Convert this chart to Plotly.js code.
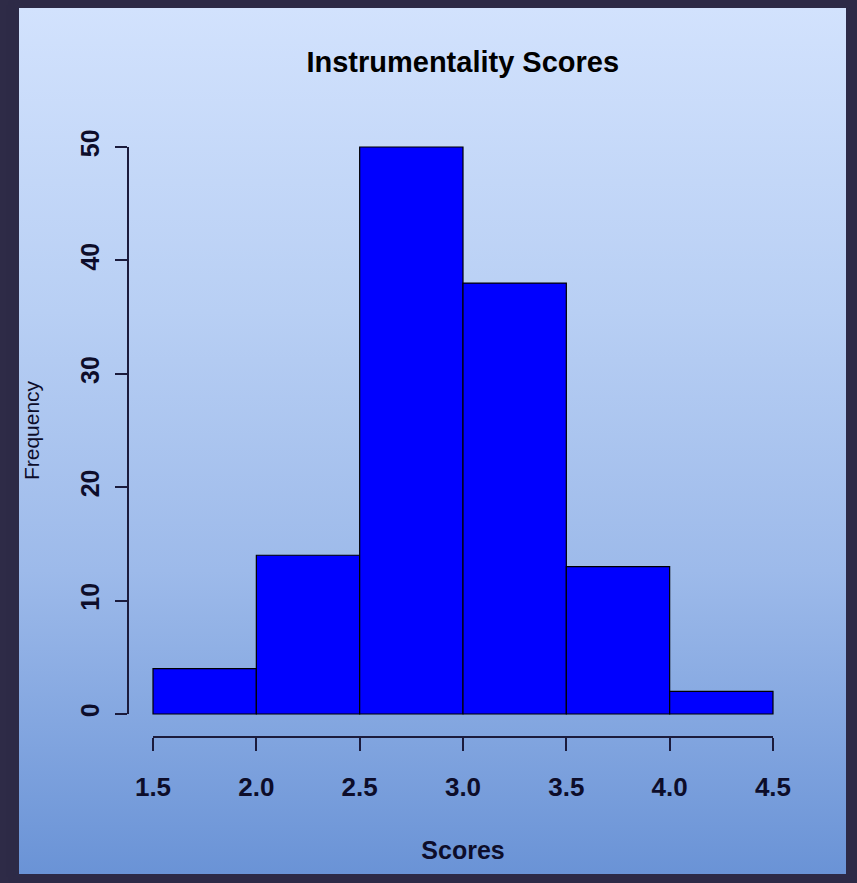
<!DOCTYPE html>
<html>
<head>
<meta charset="utf-8">
<script src="https://cdn.plot.ly/plotly-3.0.1.min.js"></script>
<style>
  html, body { margin:0; padding:0; width:857px; height:883px; overflow:hidden; background:#2e2b47; }
  #frame { position:absolute; left:19px; top:8px; width:827px; height:866px;
    background: linear-gradient(to bottom, #d2e2fd 0%, #b8cff4 35%, #9dbaea 65%, #6a93d6 100%);
    box-shadow: 0 0 7px 3px rgba(46,43,71,0.9); }
  #chart { position:absolute; left:0; top:0; width:857px; height:883px; }
</style>
</head>
<body>
<div id="frame"></div>
<div id="chart"></div>
<script>
const binStarts = [1.5, 2.0, 2.5, 3.0, 3.5, 4.0];
const binWidth = 0.5;
const frequencies = [4, 14, 50, 38, 13, 2];
const xTicks = [1.5, 2.0, 2.5, 3.0, 3.5, 4.0, 4.5];
const xTickLabels = ["1.5", "2.0", "2.5", "3.0", "3.5", "4.0", "4.5"];
const yTicks = [0, 10, 20, 30, 40, 50];

const centers = binStarts.map(s => s + binWidth / 2);
const fontFam = '"Liberation Sans", Arial, sans-serif';
const axisColor = '#1b1b3c';

const trace = {
  type: 'bar',
  x: centers,
  y: frequencies,
  width: binStarts.map(() => binWidth),
  marker: { color: '#0000ff', line: { color: '#000000', width: 1.2 } },
  hoverinfo: 'x+y'
};

const layout = {
  width: 857, height: 883,
  margin: { l: 128, r: 59, t: 124, b: 146 },
  paper_bgcolor: 'rgba(0,0,0,0)',
  plot_bgcolor: 'rgba(0,0,0,0)',
  showlegend: false,
  title: { text: 'Instrumentality Scores', x: 0.54, xanchor: 'center', y: 1 - 62/883, yanchor: 'middle', yref: 'container',
           font: { family: fontFam, size: 29, color: '#000000', weight: 'bold' } },
  xaxis: {
    range: [1.379, 4.621], showgrid: false, zeroline: false, showline: false,
    tickmode: 'array', tickvals: xTicks, ticktext: xTickLabels,
    ticks: 'outside', ticklen: 13, tickwidth: 2, tickcolor: axisColor,
    ticklabelstandoff: 14,
    tickfont: { family: fontFam, size: 26, color: '#0d0d2a', weight: 'bold' },
    title: { text: 'Scores', standoff: 40, font: { family: fontFam, size: 25, color: '#0d0d2a', weight: 'bold' } }
  },
  yaxis: {
    range: [-2.028, 52.03], showgrid: false, zeroline: false, showline: false,
    tickmode: 'array', tickvals: yTicks,
    ticks: 'outside', ticklen: 12, tickwidth: 2, tickcolor: axisColor,
    tickangle: -90, ticklabelstandoff: 6,
    tickfont: { family: fontFam, size: 25, color: '#0d0d2a', weight: 'bold' },
    title: { text: 'Frequency', standoff: 30, font: { family: fontFam, size: 21, color: '#0d0d2a' } }
  },
  shapes: [
    { type: 'line', xref: 'x', yref: 'paper', x0: xTicks[0], x1: xTicks[xTicks.length-1], y0: 0, y1: 0,
      line: { color: axisColor, width: 2 } },
    { type: 'line', xref: 'paper', yref: 'y', x0: 0, x1: 0, y0: yTicks[0], y1: yTicks[yTicks.length-1],
      line: { color: axisColor, width: 2 } }
  ]
};

Plotly.newPlot('chart', [trace], layout, { displayModeBar: false, staticPlot: true });
</script>
</body>
</html>
